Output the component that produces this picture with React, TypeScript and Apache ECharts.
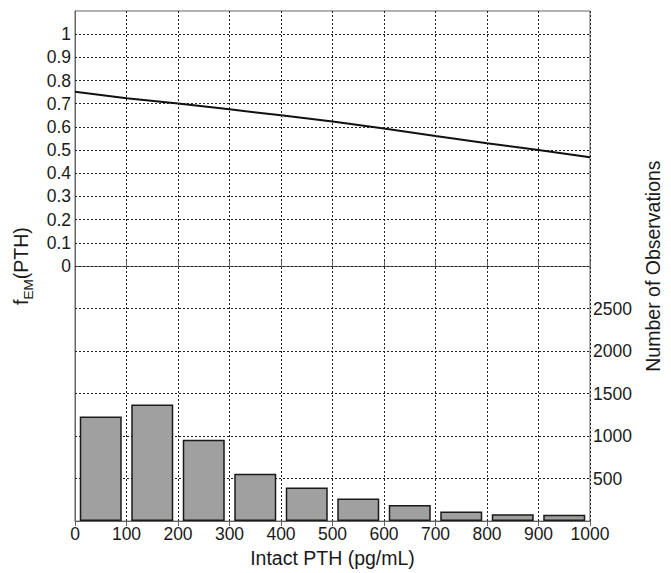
import React, { useEffect, useRef } from "react";
import * as echarts from "echarts";

const binCenters = [50, 150, 250, 350, 450, 550, 650, 750, 850, 950];
const counts = [1230, 1372, 958, 558, 395, 267, 190, 112, 81, 74];
const pthValues = [0, 100, 200, 300, 400, 500, 600, 700, 800, 900, 1000];
const fEM = [0.752, 0.724, 0.701, 0.676, 0.65, 0.623, 0.593, 0.561, 0.53, 0.501, 0.469];
const leftGridValues = [0, 0.1, 0.2, 0.3, 0.4, 0.5, 0.6, 0.7, 0.8, 0.9, 1];
const rightGridValues = [500, 1000, 1500, 2000, 2500];

const FONT = "'Liberation Sans', Arial, Helvetica, sans-serif";
const TXT = "#1a1a1a";
const AX = "#666";
const TICK_FS = 17.5;
const NAME_FS = 19.5;

export default function App() {
  const ref = useRef<HTMLDivElement>(null);
  useEffect(() => {
    if (!ref.current) return;
    const chart = echarts.init(ref.current, null, { renderer: "svg" });
    const gridLine = { color: "#222", type: [2, 2] as any, width: 1 };
    chart.setOption({
      animation: false,
      backgroundColor: "#fff",
      textStyle: { fontFamily: FONT },
      grid: { left: 75, right: 81, top: 11, bottom: 46, show: true, borderColor: AX, borderWidth: 1 },
      xAxis: [
        {
          type: "value",
          position: "bottom",
          min: 0,
          max: 1000,
          interval: 100,
          name: "Intact PTH (pg/mL)",
          nameLocation: "middle",
          nameGap: 21,
          nameTextStyle: { fontSize: NAME_FS, color: TXT, fontFamily: FONT },
          axisLine: { show: true, lineStyle: { color: AX } },
          axisTick: { show: true, inside: true, length: 5, lineStyle: { color: AX } },
          axisLabel: {
            fontSize: TICK_FS,
            color: TXT,
            margin: 4,
            fontFamily: FONT,
            formatter: (v: number) => String(v),
          },
          splitLine: { show: true, lineStyle: gridLine },
        },
        {
          type: "value",
          position: "top",
          min: 0,
          max: 1000,
          interval: 100,
          axisLine: { show: true, lineStyle: { color: AX } },
          axisTick: { show: true, inside: true, length: 5, lineStyle: { color: AX } },
          axisLabel: { show: false },
          splitLine: { show: false },
        },
      ],
      yAxis: [
        {
          type: "value",
          position: "left",
          min: -1.1,
          max: 1.1,
          interval: 0.1,
          name: "{n|f}{s|EM}{n|(PTH)}",
          nameLocation: "middle",
          nameRotate: 90,
          nameGap: 38,
          nameTextStyle: {
            color: TXT,
            fontFamily: FONT,
            rich: {
              n: { fontSize: NAME_FS, color: TXT, fontFamily: FONT, verticalAlign: "bottom", padding: [0, 0, 5, 0] },
              s: { fontSize: 13.5, color: TXT, fontFamily: FONT, verticalAlign: "bottom" },
            },
          },
          axisLine: { show: true, lineStyle: { color: AX } },
          axisTick: { show: false },
          axisLabel: {
            fontSize: TICK_FS,
            color: TXT,
            margin: 4,
            fontFamily: FONT,
            formatter: (v: number) => {
              const r = Math.round(v * 10) / 10;
              if (r < -0.001 || r > 1.001) return "";
              return r === 0 ? "0" : r === 1 ? "1" : String(r);
            },
          },
          splitLine: { show: false },
        },
        {
          type: "value",
          position: "right",
          min: 0,
          max: 6000,
          interval: 500,
          name: "Number of Observations",
          nameLocation: "middle",
          nameRotate: 90,
          nameGap: 48,
          nameTextStyle: { fontSize: NAME_FS, color: TXT, fontFamily: FONT },
          axisLine: { show: true, lineStyle: { color: AX } },
          axisTick: { show: false },
          axisLabel: {
            fontSize: TICK_FS,
            color: TXT,
            margin: 3,
            fontFamily: FONT,
            formatter: (v: number) => (v >= 500 && v <= 2500 ? String(v) : ""),
          },
          splitLine: { show: false },
        },
      ],
      series: [
        {
          type: "bar",
          xAxisIndex: 0,
          yAxisIndex: 1,
          data: binCenters.map((c, i) => [c, counts[i]]),
          barWidth: 42,
          itemStyle: { color: "#a0a0a0", borderColor: "#1a1a1a", borderWidth: 1.5 },
          z: 3,
          markLine: {
            silent: true,
            z: 1,
            symbol: "none",
            label: { show: false },
            lineStyle: gridLine,
            data: rightGridValues.map((v) => ({ yAxis: v })),
          },
        },
        {
          type: "line",
          xAxisIndex: 0,
          yAxisIndex: 0,
          data: pthValues.map((x, i) => [x, fEM[i]]),
          showSymbol: false,
          symbol: "none",
          lineStyle: { color: "#111", width: 2 },
          z: 4,
          markLine: {
            silent: true,
            z: 1,
            symbol: "none",
            label: { show: false },
            lineStyle: gridLine,
            data: leftGridValues.map((v) => ({ yAxis: v })),
          },
        },
      ],
    });
    return () => chart.dispose();
  }, []);
  return (
    <div
      ref={ref}
      style={{ position: "fixed", left: 0, top: 0, width: 671, height: 573, background: "#fff" }}
    />
  );
}
